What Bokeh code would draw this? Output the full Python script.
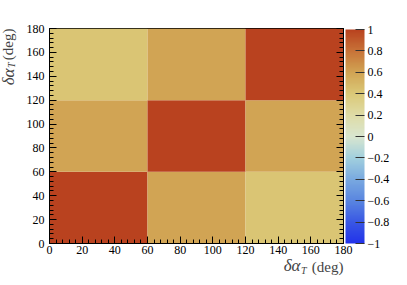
import numpy as np
from bokeh.plotting import figure
from bokeh.models import (LinearColorMapper, ColorBar, LinearAxis, SingleIntervalTicker,
                          FixedTicker, CustomJSTickFormatter, Title, Range1d, ColumnDataSource)
from bokeh.transform import transform
from bokeh.embed import file_html
from bokeh.resources import INLINE

# ---- data ----
x_edges = [0, 60, 120, 180]
y_edges = [0, 60, 120, 180]
corr_row0 = [1.0, 0.60, 0.42]
corr_row1 = [0.60, 1.0, 0.60]
corr_row2 = [0.42, 0.60, 1.0]
cbar_ticks = [-1, -0.8, -0.6, -0.4, -0.2, 0, 0.2, 0.4, 0.6, 0.8, 1]
title_main = "δα"
title_sub = "T"
title_unit = "(deg)"

stops = [(-1.0, "#2233ea"), (-0.8, "#3a58e4"), (-0.6, "#5a86e0"), (-0.4, "#7aaae0"),
         (-0.2, "#a2d0de"), (0.0, "#d9e6cf"), (0.2, "#dfdca6"), (0.4, "#dbc978"),
         (0.6, "#d1a454"), (0.8, "#c87338"), (1.0, "#b9421f")]
def hex2rgb(h):
    return np.array([int(h[i:i+2], 16) for i in (1, 3, 5)], float)
sv = np.array([s[0] for s in stops])
sc = np.array([hex2rgb(s[1]) for s in stops])
palette = []
for t in np.linspace(-1, 1, 256):
    rgb = [np.interp(t, sv, sc[:, k]) for k in range(3)]
    palette.append("#%02x%02x%02x" % tuple(int(round(c)) for c in rgb))

rows = [corr_row0, corr_row1, corr_row2]
left, right, bottom, top, val = [], [], [], [], []
for i, row in enumerate(rows):
    for j, v in enumerate(row):
        left.append(x_edges[j]); right.append(x_edges[j + 1])
        bottom.append(y_edges[i]); top.append(y_edges[i + 1])
        val.append(v)
src = ColumnDataSource(dict(left=left, right=right, bottom=bottom, top=top, val=val))

mapper = LinearColorMapper(palette=palette, low=-1, high=1)

SERIF = "Liberation Serif"
FS = "12px"
TFS = "15px"
GFS = "17px"
SFS = "10px"

p = figure(output_backend="svg", toolbar_location=None,
           frame_width=294, frame_height=215,
           min_border_left=49, min_border_top=28, min_border_bottom=40, min_border_right=0,
           x_range=Range1d(0, 180), y_range=Range1d(0, 180))
p.quad(left="left", right="right", bottom="bottom", top="top", source=src,
       fill_color=transform("val", mapper), line_color=None)

p.grid.visible = False
p.outline_line_color = "black"
p.outline_line_width = 1
p.background_fill_color = "white"
p.border_fill_color = "white"

for ax in (p.xaxis[0], p.yaxis[0]):
    ax.ticker = SingleIntervalTicker(interval=20, num_minor_ticks=5)
    ax.major_tick_in = 7
    ax.major_tick_out = 0
    ax.minor_tick_in = 4
    ax.minor_tick_out = 0
    ax.major_label_text_font = SERIF
    ax.major_label_text_font_size = FS
    ax.major_label_text_color = "black"
    ax.axis_line_color = "black"
p.xaxis[0].major_label_standoff = 2
p.yaxis[0].major_label_standoff = 5

raxis = LinearAxis(ticker=SingleIntervalTicker(interval=20, num_minor_ticks=5),
                   major_tick_in=7, major_tick_out=0, minor_tick_in=4, minor_tick_out=0,
                   formatter=CustomJSTickFormatter(code="return '';"), major_label_standoff=0,
                   axis_line_color="black")
p.add_layout(raxis, "right")

cb_fmt = CustomJSTickFormatter(code="""
let s;
if (Math.abs(tick) < 1e-9) s = "0";
else if (Math.abs(Math.abs(tick) - 1) < 1e-9) s = String(Math.round(tick));
else s = tick.toFixed(1);
return s.replace("-", "\\u2212");
""")
cbar = ColorBar(color_mapper=mapper, ticker=FixedTicker(ticks=cbar_ticks), formatter=cb_fmt,
                width=19, height=214, padding=0, margin=0, location=(2, 0),
                major_tick_in=9, major_tick_out=0, major_tick_line_color="#333333",
                minor_tick_line_color=None, bar_line_color=None, border_line_color=None,
                background_fill_color=None,
                major_label_text_font=SERIF, major_label_text_font_size=FS,
                major_label_text_color="black", label_standoff=3)
p.add_layout(cbar, "right")

# x-axis title pieces: every row collapses to zero height, text pushed out by standoff
p.add_layout(Title(text=title_unit, align="right", offset=0, standoff=-36, vertical_align="bottom",
                   text_font=SERIF, text_font_size=TFS, text_font_style="normal"), "below")
p.add_layout(Title(text=title_main, align="right", offset=43, standoff=-37, vertical_align="bottom",
                   text_font=SERIF, text_font_size=GFS, text_font_style="italic"), "below")
p.add_layout(Title(text=title_sub, align="right", offset=37, standoff=-39, vertical_align="bottom",
                   text_font=SERIF, text_font_size=SFS, text_font_style="italic"), "below")

# y-axis title pieces
p.add_layout(Title(text=title_unit, align="right", offset=0, standoff=-48, vertical_align="top",
                   text_font=SERIF, text_font_size=TFS, text_font_style="normal"), "left")
p.add_layout(Title(text=title_main, align="right", offset=40, standoff=-49, vertical_align="top",
                   text_font=SERIF, text_font_size=GFS, text_font_style="italic"), "left")
p.add_layout(Title(text=title_sub, align="right", offset=34, standoff=-35, vertical_align="top",
                   text_font=SERIF, text_font_size=SFS, text_font_style="italic"), "left")

open("out.html", "w").write(file_html(p, INLINE))
